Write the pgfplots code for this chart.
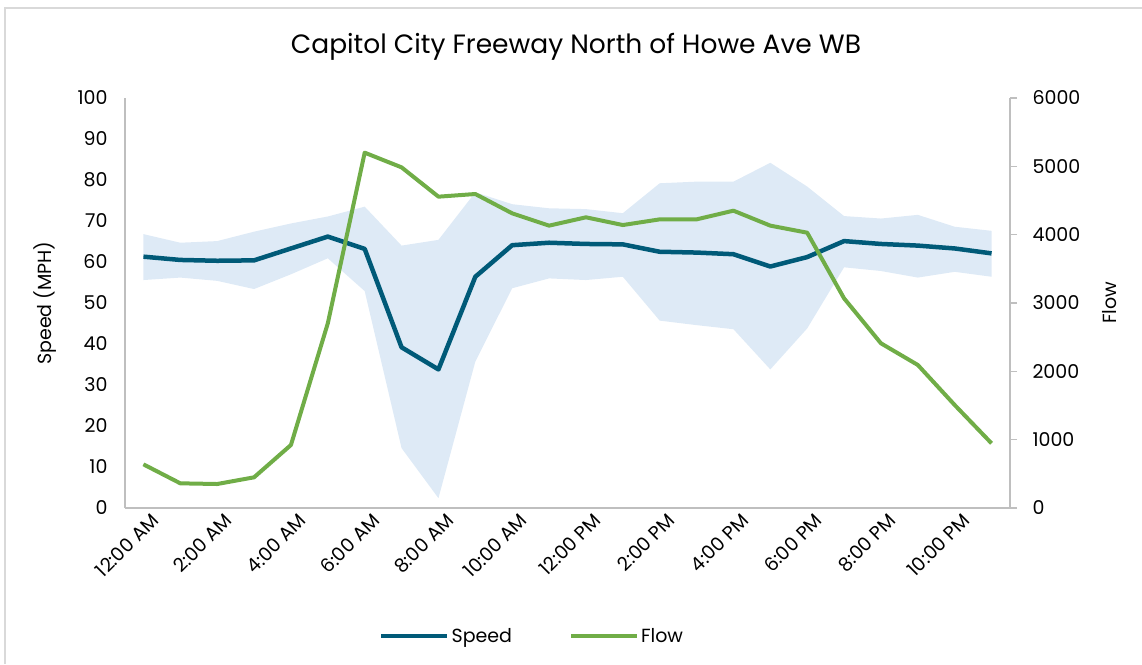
\documentclass[border=0pt]{standalone}
\usepackage{pgfplots}
\pgfplotsset{compat=1.18}
\usepackage{fontspec}
\setmainfont{Poppins}
\definecolor{speedc}{HTML}{005A78}
\definecolor{flowc}{HTML}{70AD47}
\definecolor{bandc}{HTML}{DEEAF6}
\definecolor{axc}{HTML}{BFBFBF}
\definecolor{brd}{HTML}{D9D9D9}
\begin{document}
\begin{tikzpicture}[x=1pt,y=1pt]
\path[use as bounding box] (0,0) rectangle (1142,664);
\draw[brd, line width=1.5pt] (5,0) -- (5,656) -- (1142,656);
\node[font=\fontsize{26.5}{30}\selectfont, anchor=center] at (576,617) {Capitol City Freeway North of Howe Ave WB};
\begin{axis}[
  at={(125pt,156pt)}, anchor=south west, scale only axis,
  width=885pt, height=410pt,
  xmin=-0.5, xmax=23.5, ymin=0, ymax=100,
  ytick={0,10,...,100},
  xtick={0,2,...,22},
  xticklabels={12:00 AM,2:00 AM,4:00 AM,6:00 AM,8:00 AM,10:00 AM,12:00 PM,2:00 PM,4:00 PM,6:00 PM,8:00 PM,10:00 PM},
  axis x line*=bottom, axis y line*=left,
  axis line style={axc, line width=1.5pt, -},
  major tick length=0pt,
  /pgf/number format/assume math mode=true,
  tick label style={font=\fontsize{19}{22}\selectfont, black},
  yticklabel style={xshift=-14pt},
  xticklabel style={rotate=45, anchor=north east, xshift=5pt, yshift=-4pt},
  ylabel={Speed (MPH)},
  ylabel style={font=\fontsize{19}{22}\selectfont, at={(axis description cs:-0.090,0.5)}, anchor=center},
  legend style={at={(0.46,-0.312)}, anchor=center, legend columns=2, draw=none, fill=none,
    font=\fontsize{19}{22}\selectfont,
    /tikz/every even column/.append style={column sep=55pt}},
  legend image code/.code={\draw[#1] (0pt,0pt) -- (50pt,0pt); \path (0pt,0pt) -- (66pt,0pt);},
  clip=false,
]
\addplot[fill=bandc, draw=none, forget plot] coordinates {
(0,66.8) (1,64.7) (2,65.1) (3,67.4) (4,69.4) (5,71.1) (6,73.5) (7,64.0) (8,65.4) (9,77.0) (10,74.1) (11,73.1) (12,72.9) (13,71.9) (14,79.2) (15,79.6) (16,79.6) (17,84.2) (18,78.4) (19,71.2) (20,70.6) (21,71.5) (22,68.6) (23,67.6)
(23,56.4) (22,57.6) (21,56.2) (20,57.8) (19,58.7) (18,43.8) (17,33.8) (16,43.6) (15,44.6) (14,45.7) (13,56.4) (12,55.6) (11,56.0) (10,53.6) (9,35.7) (8,2.4) (7,14.6) (6,52.9) (5,60.9) (4,57.0) (3,53.4) (2,55.4) (1,56.2) (0,55.6)
} -- cycle;
\addplot[speedc, line width=4.5pt, line join=round] coordinates {
(0,61.3) (1,60.5) (2,60.3) (3,60.4) (4,63.3) (5,66.2) (6,63.2) (7,39.2) (8,33.8) (9,56.4) (10,64.1) (11,64.7) (12,64.4) (13,64.3) (14,62.5) (15,62.3) (16,61.9) (17,58.9) (18,61.2) (19,65.1) (20,64.4) (21,64.0) (22,63.3) (23,62.1)
};
\addlegendentry{Speed}
\addlegendimage{flowc, line width=4pt}
\addlegendentry{Flow}
\end{axis}
\begin{axis}[
  at={(125pt,156pt)}, anchor=south west, scale only axis,
  width=885pt, height=410pt,
  xmin=-0.5, xmax=23.5, ymin=0, ymax=6000,
  ytick={0,1000,...,6000},
  axis x line=none, axis y line*=right,
  axis line style={axc, line width=1.5pt, -},
  tick style={axc, line width=1.5pt},
  major tick length=7pt, tick align=outside,
  /pgf/number format/assume math mode=true,
  /pgf/number format/1000 sep={},
  tick label style={font=\fontsize{19}{22}\selectfont, black},
  yticklabel style={xshift=12pt},
  ylabel={Flow},
  ylabel style={font=\fontsize{19}{22}\selectfont, at={(axis description cs:1.113,0.5)}, anchor=center, rotate=0},
  clip=false,
]
\addplot[flowc, line width=4pt, line join=round] coordinates {
(0,639) (1,361) (2,351) (3,449) (4,922) (5,2703) (6,5200) (7,4985) (8,4556) (9,4595) (10,4312) (11,4132) (12,4254) (13,4141) (14,4224) (15,4224) (16,4351) (17,4132) (18,4029) (19,3068) (20,2410) (21,2093) (22,1507) (23,946)
};
\end{axis}
\end{tikzpicture}
\end{document}
